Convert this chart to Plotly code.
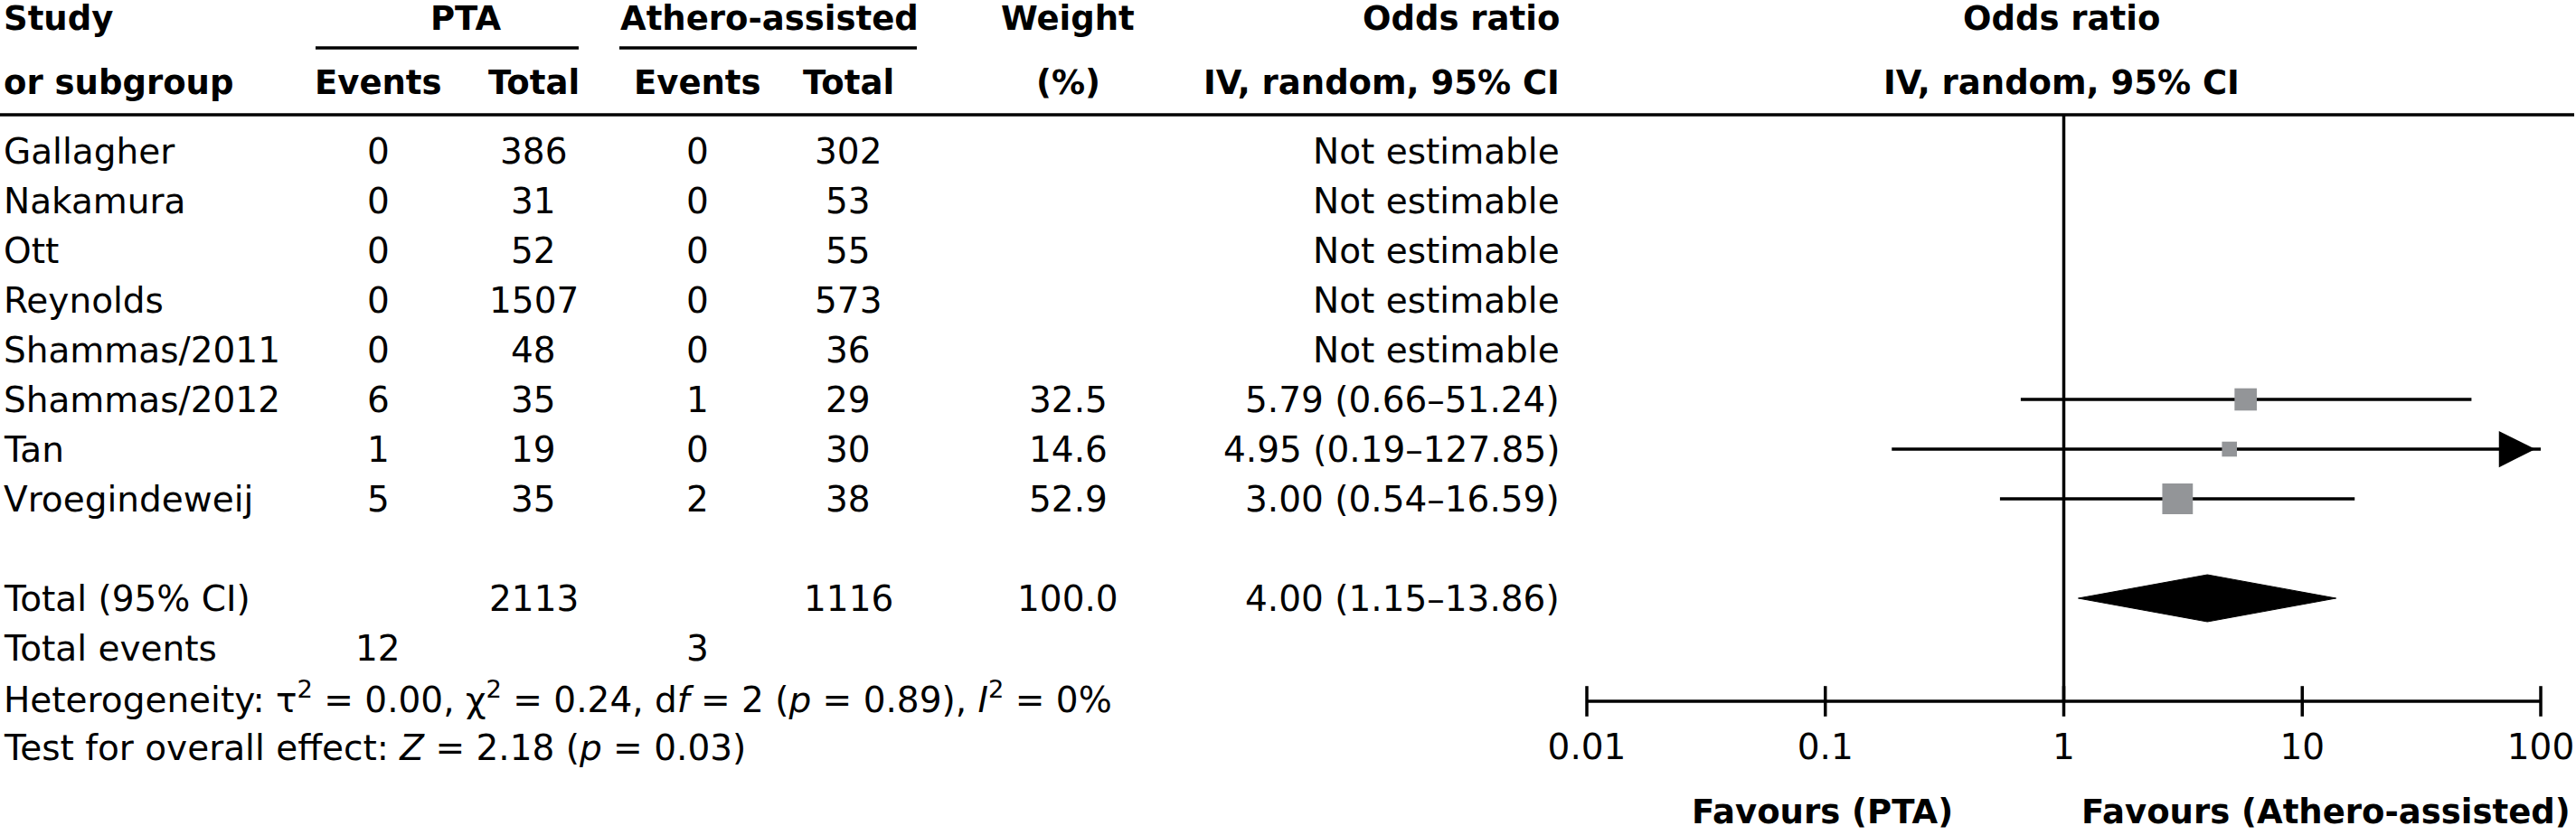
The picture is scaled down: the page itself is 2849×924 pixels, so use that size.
import plotly.graph_objects as go
import math

# ---------------- data ----------------
studies = ["Gallagher", "Nakamura", "Ott", "Reynolds", "Shammas/2011",
           "Shammas/2012", "Tan", "Vroegindeweij"]
pta_events = [0, 0, 0, 0, 0, 6, 1, 5]
pta_total = [386, 31, 52, 1507, 48, 35, 19, 35]
ath_events = [0, 0, 0, 0, 0, 1, 0, 2]
ath_total = [302, 53, 55, 573, 36, 29, 30, 38]
weights = [None, None, None, None, None, 32.5, 14.6, 52.9]
or_est = [None, None, None, None, None, 5.79, 4.95, 3.00]
or_low = [None, None, None, None, None, 0.66, 0.19, 0.54]
or_high = [None, None, None, None, None, 51.24, 127.85, 16.59]

total_pta = 2113
total_ath = 1116
total_weight = 100.0
total_or = 4.00
total_low = 1.15
total_high = 13.86
events_pta = 12
events_ath = 3

heterogeneity_text = ("Heterogeneity: \u03c4<sup>2</sup> = 0.00, \u03c7<sup>2</sup> = 0.24, "
                      "d<i>f</i> = 2 (<i>p</i> = 0.89), <i>I</i><sup>2</sup> = 0%")
overall_text = "Test for overall effect: <i>Z</i> = 2.18 (<i>p</i> = 0.03)"

tick_vals = [0.01, 0.1, 1, 10, 100]
tick_text = ["0.01", "0.1", "1", "10", "100"]
fav_left = "Favours (PTA)"
fav_right = "Favours (Athero-assisted)"

# ---------------- layout constants ----------------
W, H = 2849, 924
FONT = "DejaVu Sans"
FS = 39        # regular text
FSB = 37       # bold header text
X_MIN, X_MAX = 0.01, 100
AX_L, AX_R = 1755, 2810

X_STUDY = 2
X_PTA_EV = 418
X_PTA_TOT = 590
X_ATH_EV = 771
X_ATH_TOT = 938
X_WEIGHT = 1181
X_OR_R = 1727
X_FOREST_C = 2280

Y_H1 = 20
Y_H2 = 91
Y_ROW0 = 167
STEP = 55
Y_LINE_TOP = 127
Y_SUB_LINE = 53


def row_y(i):
    return Y_ROW0 + i * STEP


Y_TOTAL = row_y(9)
Y_EVENTS = row_y(10)
Y_HET = row_y(11)
Y_TEST = row_y(12)
Y_AXIS = 776
Y_TICKLAB = 830
Y_FAV = 898

fig = go.Figure()


def txt(xpx, y, text, anchor="left", bold=False):
    size = FS
    if bold:
        text = "<b>" + text + "</b>"
        size = FSB
    fig.add_annotation(x=xpx / W, xref="paper", y=y, yref="y", text=text,
                       showarrow=False, xanchor=anchor, yanchor="middle",
                       font=dict(family=FONT, size=size, color="black"))


# headers
txt(X_STUDY, Y_H1, "Study", bold=True)
txt(X_STUDY, Y_H2, "or subgroup", bold=True)
txt(515, Y_H1, "PTA", "center", bold=True)
txt(851, Y_H1, "Athero-assisted", "center", bold=True)
txt(X_PTA_EV, Y_H2, "Events", "center", bold=True)
txt(X_PTA_TOT, Y_H2, "Total", "center", bold=True)
txt(X_ATH_EV, Y_H2, "Events", "center", bold=True)
txt(X_ATH_TOT, Y_H2, "Total", "center", bold=True)
txt(X_WEIGHT, Y_H1, "Weight", "center", bold=True)
txt(X_WEIGHT, Y_H2, "(%)", "center", bold=True)
txt(X_OR_R, Y_H1, "Odds ratio", "right", bold=True)
txt(X_OR_R, Y_H2, "IV, random, 95% CI", "right", bold=True)
txt(X_FOREST_C, Y_H1, "Odds ratio", "center", bold=True)
txt(X_FOREST_C, Y_H2, "IV, random, 95% CI", "center", bold=True)

# header rules
fig.add_shape(type="line", xref="paper", yref="y", x0=349 / W, x1=640 / W,
              y0=Y_SUB_LINE, y1=Y_SUB_LINE, line=dict(color="black", width=3.5))
fig.add_shape(type="line", xref="paper", yref="y", x0=685 / W, x1=1014 / W,
              y0=Y_SUB_LINE, y1=Y_SUB_LINE, line=dict(color="black", width=3.5))
fig.add_shape(type="line", xref="paper", yref="y", x0=0, x1=2847 / W,
              y0=Y_LINE_TOP, y1=Y_LINE_TOP, line=dict(color="black", width=3.5))

# study rows
for i, s in enumerate(studies):
    y = row_y(i)
    txt(X_STUDY, y, s)
    txt(X_PTA_EV, y, str(pta_events[i]), "center")
    txt(X_PTA_TOT, y, str(pta_total[i]), "center")
    txt(X_ATH_EV, y, str(ath_events[i]), "center")
    txt(X_ATH_TOT, y, str(ath_total[i]), "center")
    if weights[i] is None:
        txt(X_OR_R, y, "Not estimable", "right")
    else:
        txt(X_WEIGHT, y, f"{weights[i]:.1f}", "center")
        txt(X_OR_R, y, f"{or_est[i]:.2f} ({or_low[i]:.2f}\u2013{or_high[i]:.2f})", "right")

# totals
txt(X_STUDY, Y_TOTAL, "Total (95% CI)")
txt(X_PTA_TOT, Y_TOTAL, str(total_pta), "center")
txt(X_ATH_TOT, Y_TOTAL, str(total_ath), "center")
txt(X_WEIGHT, Y_TOTAL, f"{total_weight:.1f}", "center")
txt(X_OR_R, Y_TOTAL, f"{total_or:.2f} ({total_low:.2f}\u2013{total_high:.2f})", "right")
txt(X_STUDY, Y_EVENTS, "Total events")
txt(X_PTA_EV, Y_EVENTS, str(events_pta), "center")
txt(X_ATH_EV, Y_EVENTS, str(events_ath), "center")
txt(X_STUDY, Y_HET, heterogeneity_text)
txt(X_STUDY, Y_TEST, overall_text)

# ---------------- forest plot ----------------
# reference line at OR = 1
fig.add_trace(go.Scatter(x=[1, 1], y=[Y_LINE_TOP, Y_AXIS], mode="lines",
                         line=dict(color="black", width=3.5), hoverinfo="skip"))

# confidence intervals and squares
for i in range(len(studies)):
    if or_est[i] is None:
        continue
    y = row_y(i)
    hi = min(or_high[i], X_MAX)
    fig.add_trace(go.Scatter(x=[or_low[i], hi], y=[y, y], mode="lines",
                             line=dict(color="black", width=3.5), hoverinfo="skip"))
    if or_high[i] > X_MAX:
        fig.add_annotation(x=math.log10(X_MAX), y=y, xref="x", yref="y",
                           ax=-34, ay=0, showarrow=True, arrowhead=2,
                           arrowsize=2.3, arrowwidth=3.5, arrowcolor="black",
                           standoff=6, text=" ")
    fig.add_trace(go.Scatter(x=[or_est[i]], y=[y], mode="markers",
                             marker=dict(symbol="square", color="#939598",
                                         size=10 + 0.45 * weights[i],
                                         line=dict(width=0)),
                             hoverinfo="skip"))

# pooled diamond
DH = 26
fig.add_trace(go.Scatter(x=[total_low, total_or, total_high, total_or, total_low],
                         y=[Y_TOTAL, Y_TOTAL - DH, Y_TOTAL, Y_TOTAL + DH, Y_TOTAL],
                         mode="lines", fill="toself", fillcolor="black",
                         line=dict(color="black", width=1), hoverinfo="skip"))

# axis line, ticks and tick labels
fig.add_trace(go.Scatter(x=[X_MIN, X_MAX], y=[Y_AXIS, Y_AXIS], mode="lines",
                         line=dict(color="black", width=3.5), hoverinfo="skip"))
fig.add_trace(go.Scatter(x=tick_vals, y=[Y_AXIS] * len(tick_vals), mode="markers",
                         marker=dict(symbol="line-ns", size=24,
                                     line=dict(color="black", width=3.5)),
                         cliponaxis=False, hoverinfo="skip"))
fig.add_trace(go.Scatter(x=tick_vals, y=[Y_TICKLAB] * len(tick_vals), mode="text",
                         text=tick_text, textposition="middle center",
                         textfont=dict(family=FONT, size=FS, color="black"),
                         cliponaxis=False, hoverinfo="skip"))

txt(2162, Y_FAV, fav_left, "right", bold=True)
txt(2845, Y_FAV, fav_right, "right", bold=True)

fig.update_layout(
    width=W, height=H,
    margin=dict(l=0, r=0, t=0, b=0),
    paper_bgcolor="white", plot_bgcolor="white",
    showlegend=False,
    xaxis=dict(type="log", range=[math.log10(X_MIN), math.log10(X_MAX)],
               domain=[AX_L / W, AX_R / W], visible=False, fixedrange=True),
    yaxis=dict(range=[H, 0], domain=[0, 1], visible=False, fixedrange=True),
)

fig.write_html("out.html",
               config={"displayModeBar": False},
               post_script="document.body.style.margin='0';"
                           "document.body.style.padding='0';"
                           "document.body.style.overflow='hidden';")
